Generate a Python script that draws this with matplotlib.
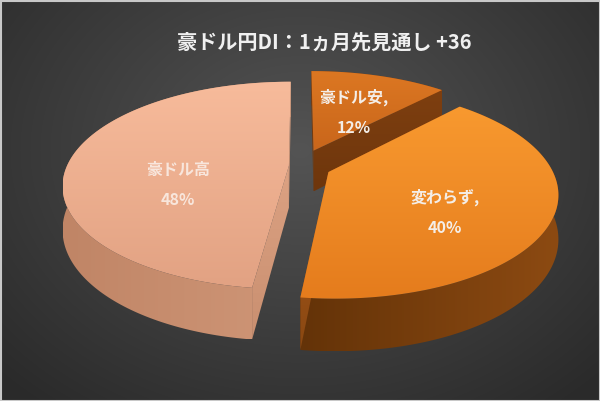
import numpy as np
import matplotlib
matplotlib.use("Agg")
import matplotlib.pyplot as plt
from matplotlib.patches import Polygon, Rectangle
from matplotlib.colors import to_rgb

plt.rcParams['font.family'] = ['Noto Sans CJK JP', 'DejaVu Sans']

title = "豪ドル円DI：1ヵ月先見通し +36"
labels = ["豪ドル安,", "変わらず,", "豪ドル高"]
shares = [12, 40, 48]
explode = [0.17, 0.14, 0.05]

top_colors = [("#dc7722", "#c9661b"), ("#f8992f", "#e57c1d"), ("#f7bb9b", "#e2a283")]
side_colors = [("#8a4512", "#7a3b0e"), ("#8c4a12", "#643308"), ("#cf9677", "#c08566")]
cut_colors = [("#7e3f10", "#6e360c"), ("#a8581a", "#8a4812"), ("#dca283", "#c98f70")]
text_colors = ["#f4eee8", "#f4eee8", "#f8e6dc"]

# projection of the tilted disc (screen pixels)
CX, CY = 300, 166
A, B, K, H = 222, 100, 0.19, 42


def proj(X, Y, z):
    p = 1.0 / (1.0 + K * Y)
    return CX + A * X * p, CY - B * Y * p + H * z * p


def mix(c1, c2, t):
    a = np.array(to_rgb(c1))
    b = np.array(to_rgb(c2))
    return tuple(a + (b - a) * t)


def fill_gradient(ax, xy, c1, c2, zorder, horizontal=False):
    poly = Polygon(xy, closed=True, facecolor="none", edgecolor="none")
    ax.add_patch(poly)
    y0, y1 = xy[:, 1].min(), xy[:, 1].max()
    x0, x1 = xy[:, 0].min(), xy[:, 0].max()
    cols = np.array([mix(c1, c2, t) for t in np.linspace(0, 1, 64)])
    img = cols[None, :, :] if horizontal else cols[:, None, :]
    im = ax.imshow(img, extent=(x0, x1, y1, y0), aspect="auto",
                   zorder=zorder, interpolation="bilinear")
    im.set_clip_path(poly)


fig = plt.figure(figsize=(6.0, 4.01), dpi=100)
ax = fig.add_axes([0, 0, 1, 1])
ax.set_xlim(0, 600)
ax.set_ylim(401, 0)
ax.axis("off")

# background radial gradient
yy, xx = np.mgrid[0:401, 0:600]
r = np.sqrt(((xx - 300) / 420.0) ** 2 + ((yy - 150) / 330.0) ** 2)
r = np.clip(r, 0, 1)
bg = (0x54 - (0x54 - 0x2a) * r) / 255.0
ax.imshow(np.dstack([bg, bg, bg]), extent=(0, 600, 401, 0), zorder=0)
ax.add_patch(Rectangle((0.5, 0.5), 599, 400, fill=False, edgecolor="#c8c8c8",
                       linewidth=1.5, zorder=10))

ax.text(324, 42, title, ha="center", va="center", fontsize=14.5,
        fontweight="bold", color="#f0f0f0", zorder=10)

label_pos = [(354, 112), (445, 212), (178, 185)]

start = 0
order = [0, 2, 1]
slices = []
for i, s in enumerate(shares):
    t1 = np.deg2rad(90 - start * 3.6)
    t2 = np.deg2rad(90 - (start + s) * 3.6)
    start += s
    mid = (t1 + t2) / 2
    ox, oy = explode[i] * np.cos(mid), explode[i] * np.sin(mid)
    slices.append((t1, t2, ox, oy))

for n, i in enumerate(order):
    t1, t2, ox, oy = slices[i]
    z = 1 + n * 4
    th = np.linspace(t2, t1, 160)
    X = ox + np.cos(th)
    Y = oy + np.sin(th)
    tx, ty = proj(X, Y, 0)
    bx, by = proj(X, Y, 1)

    # outer wall
    wall = np.vstack([np.column_stack([tx, ty]), np.column_stack([bx, by])[::-1]])
    c_l, c_r = side_colors[i]
    fill_gradient(ax, wall, c_r, c_l, z, horizontal=True)

    # radial cut faces
    ctx, cty = proj(ox, oy, 0)
    cbx, cby = proj(ox, oy, 1)
    for j in (0, -1):
        face = np.array([[ctx, cty], [tx[j], ty[j]], [bx[j], by[j]], [cbx, cby]])
        fill_gradient(ax, face, cut_colors[i][0], cut_colors[i][1], z + 1)

    # top face
    top = np.vstack([[ctx, cty], np.column_stack([tx, ty])])
    fill_gradient(ax, top, top_colors[i][0], top_colors[i][1], z + 2)

    lx, ly = label_pos[i]
    ax.text(lx, ly, labels[i] + "\n" + f"{shares[i]}%", ha="center", va="center",
            fontsize=11.5, fontweight="bold", color=text_colors[i],
            linespacing=2.1, zorder=20)

fig.savefig("out.png", dpi=100)
